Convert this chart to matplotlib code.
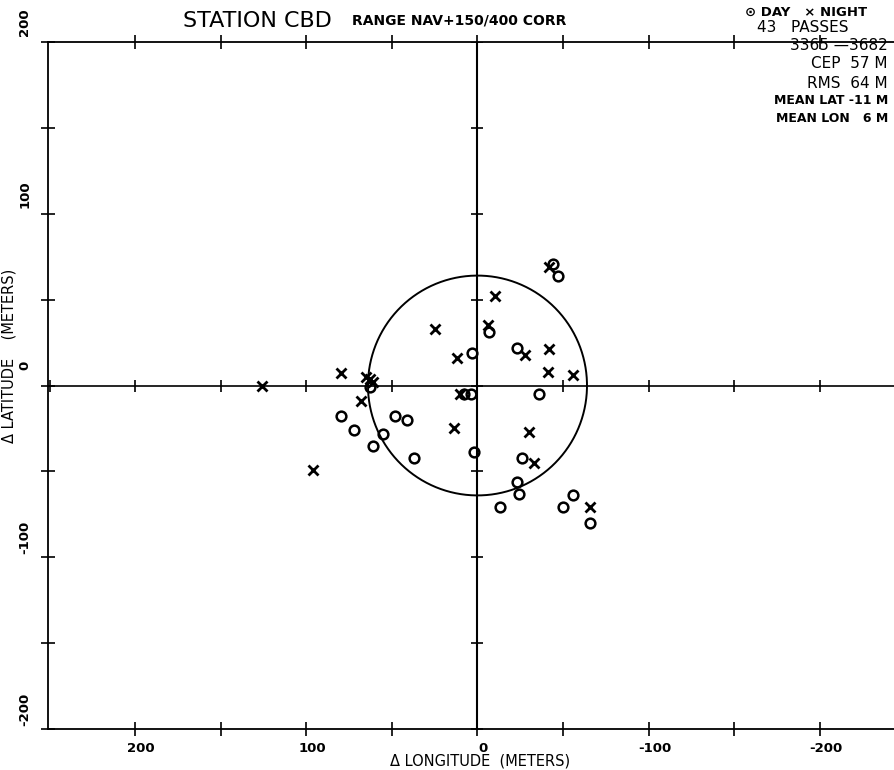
import numpy as np
import matplotlib
matplotlib.use("Agg")
import matplotlib.pyplot as plt
import matplotlib.transforms as mtransforms

# night passes (x markers): delta longitude, delta latitude in meters
night_lon = [126, 96, 80, 65, 63, 61, 68, 25, 12, 10, 14, -10, -6, -28, -42, -41, -56, -30, -33, -66, -42]
night_lat = [0, -49, 7, 5, 4, 2, -9, 33, 16, -5, -25, 52, 35, 18, 21, 8, 6, -27, -45, -71, 69]

# day passes (circle markers)
day_lon = [80, 72, 61, 55, 48, 41, 37, 2, 3, 8, 4, -7, -23, -36, -44, -47, -26, -23, -24, -56, -13, -50, -66, 63]
day_lat = [-18, -26, -35, -28, -18, -20, -42, -39, 19, -5, -5, 31, 22, -5, 71, 64, -42, -56, -63, -64, -71, -71, -80, -1]

rms_radius = 64
tick_vals = [250, 200, 150, 100, 50, 0, -50, -100, -150, -200]
ytick_vals = [200, 150, 100, 50, 0, -50, -100, -150, -200]
label_vals = [200, 100, 0, -100, -200]

stats_lines = ["3365 \u20143682", "CEP  57 M", "RMS  64 M", "MEAN LAT -11 M", "MEAN LON   6 M"]

fam = ["DejaVu Sans Condensed", "Liberation Sans Narrow", "DejaVu Sans"]
plt.rcParams["font.family"] = fam

fig = plt.figure(figsize=(8.95, 7.7), dpi=100)
ax = fig.add_axes([48/895, 1 - 729/770, 847/895, 687/770])
ax.set_xlim(251, -244)
ax.set_ylim(-200, 200)

for s in ["left", "bottom", "top"]:
    ax.spines[s].set_linewidth(1.3)
ax.spines["right"].set_visible(False)

# zero lines through the origin
ax.axhline(0, color="black", lw=1.2)
ax.axvline(0, color="black", lw=1.5)
ax.plot(tick_vals, np.zeros(len(tick_vals)), "|", color="black", ms=9, mew=1.2)
ax.plot(np.zeros(len(ytick_vals)), ytick_vals, "_", color="black", ms=9, mew=1.2)

# ticks on frame
ax.set_xticks(tick_vals[1:])
ax.set_yticks(ytick_vals)
ax.tick_params(direction="inout", length=10, width=1.2, top=True, labeltop=False)
ax.set_xticklabels([str(v) if v in label_vals else "" for v in tick_vals[1:]], fontsize=9.5, fontweight="bold")
ax.set_yticklabels([str(v) if v in label_vals else "" for v in ytick_vals], fontsize=9.5, fontweight="bold",
                   rotation=90, va="center")
ax.tick_params(axis="y", pad=7)
ax.tick_params(axis="x", pad=4)
off_y = mtransforms.ScaledTranslation(0, 0.2, fig.dpi_scale_trans)
for lab in ax.get_yticklabels():
    lab.set_transform(lab.get_transform() + off_y)
off_x = mtransforms.ScaledTranslation(0.06, 0, fig.dpi_scale_trans)
for lab in ax.get_xticklabels():
    lab.set_transform(lab.get_transform() + off_x)

# rms circle
t = np.linspace(0, 2*np.pi, 400)
ax.plot(rms_radius*np.cos(t), rms_radius*np.sin(t), color="black", lw=1.4)

ax.plot(night_lon, night_lat, "x", color="black", ms=7.5, mew=2.0, linestyle="none")
ax.plot(day_lon, day_lat, "o", color="black", mfc="none", ms=7, mew=1.8, linestyle="none")

fig.text(480/895, 1 - 761/770, "\u0394 LONGITUDE  (METERS)", fontsize=10.5, ha="center", va="center")
fig.text(9/895, 1 - 356/770, "\u0394 LATITUDE    (METERS)", fontsize=10.5, rotation=90, ha="center", va="center")

# title
fig.text(183/895, 1 - 21/770, "STATION CBD", fontsize=16, va="center", ha="left")
fig.text(352/895, 1 - 21/770, "RANGE NAV+150/400 CORR", fontsize=10, fontweight="bold", va="center", ha="left")

# legend/stats block
fig.text(745/895, 1 - 12/770, "\u2299 DAY   \u00d7 NIGHT", fontsize=9.5, fontweight="bold", va="center", ha="left")
fig.text(757/895, 1 - 28/770, "43   PASSES", fontsize=11, va="center", ha="left")
ys = [46, 64, 83, 101, 119]
for line, yy in zip(stats_lines, ys):
    fig.text(888/895, 1 - yy/770, line, fontsize=11 if yy < 90 else 9,
             fontweight="normal" if yy < 90 else "bold", va="center", ha="right")

fig.savefig("out.png", dpi=100)
